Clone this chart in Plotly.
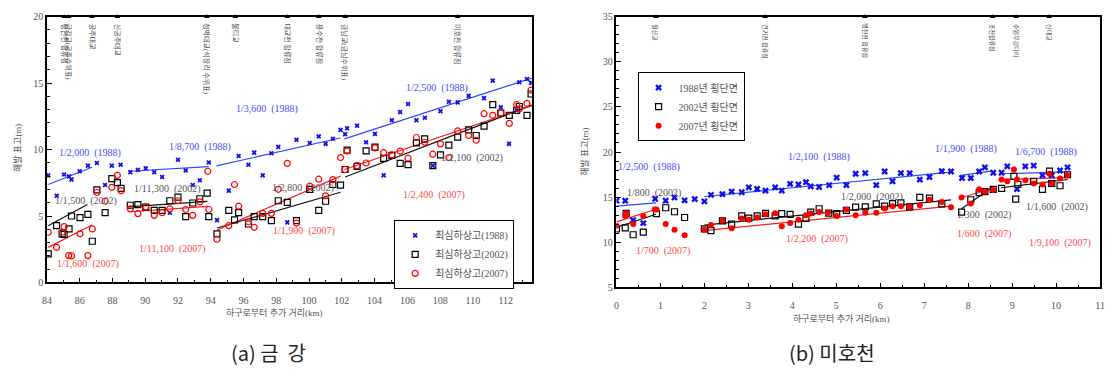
import plotly.graph_objects as go

# ---------------- DATA: (a) 금강 ----------------
geum_x_1988 = [84.08, 84.6, 85.05, 85.35, 85.5, 86.0, 86.5, 87.05, 87.55, 87.96, 88.5, 89.09, 89.55, 90.03,
               90.55, 91.03, 91.5, 92.0, 92.47, 92.9, 93.33, 93.88, 94.38, 95.1, 95.7, 96.3, 96.65, 97.17,
               97.7, 98.12, 98.67, 99.23, 100.04, 100.59, 101.01, 101.45, 101.92, 102.2, 102.32, 102.93,
               103.48, 104.02, 104.55, 105.05, 105.56, 106.04, 106.55, 107.07, 107.55, 108.02, 108.53,
               109.07, 109.74, 110.68, 111.21, 111.7, 112.2, 112.67, 112.83, 113.3, 113.55]
geum_y_1988 = [8.06, 6.52, 8.13, 7.98, 7.74, 8.37, 8.79, 8.99, 7.33, 8.79, 8.86, 8.3, 8.47, 8.6,
               8.3, 7.94, 5.25, 9.23, 8.42, 7.33, 7.69, 9.03, 4.69, 6.91, 9.52, 8.86, 9.77, 8.06,
               9.72, 10.2, 4.52, 10.74, 10.5, 10.99, 10.43, 10.82, 11.48, 11.16, 11.6, 11.8,
               10.55, 11.18, 8.06, 12.2, 12.82, 13.43, 12.2, 12.4, 8.79, 12.89, 13.6,
               13.55, 14.04, 13.87, 15.19, 13.19, 10.43, 12.94, 15.07, 15.31, 15.02]

geum_x_2002 = [84.08, 84.59, 84.93, 85.05, 85.35, 85.5, 86.02, 86.5, 86.77, 87.05, 87.55, 87.96, 88.3, 88.53,
               89.09, 89.55, 90.03, 90.55, 91.03, 91.5, 92.0, 92.47, 92.9, 93.33, 93.78, 93.88, 94.38,
               95.1, 95.45, 95.7, 96.3, 96.65, 97.17, 97.7, 98.12, 98.67, 99.23, 100.04, 100.59, 101.01,
               101.45, 101.92, 102.2, 102.32, 102.93, 103.48, 104.02, 104.55, 105.05, 105.56, 106.04,
               106.55, 107.05, 107.55, 108.02, 108.53, 109.07, 109.74, 110.2, 110.68, 111.21, 111.7,
               112.22, 112.67, 112.83, 113.3, 113.55]
geum_y_2002 = [2.15, 4.27, 3.66, 3.61, 4.03, 5.0, 4.88, 5.13, 3.1, 6.96, 5.25, 7.81, 7.52, 7.08,
               5.81, 5.86, 5.67, 5.42, 5.42, 6.15, 6.42, 4.96, 5.98, 6.3, 6.72, 4.96, 3.66,
               5.42, 4.71, 5.25, 4.4, 4.96, 4.96, 4.65, 6.15, 6.03, 4.65, 7.01, 5.42, 6.11,
               7.37, 7.33, 8.5, 9.96, 8.74, 9.9, 10.18, 9.33, 9.57, 8.96, 8.86,
               10.5, 10.8, 8.79, 9.6, 10.33, 10.94, 11.48, 11.06, 11.77, 13.38, 12.75,
               12.58, 12.94, 13.24, 12.58, 14.18]

geum_x_2007 = [84.08, 84.59, 84.93, 85.05, 85.33, 85.5, 86.02, 86.5, 86.77, 87.05, 87.55, 87.96, 88.3, 88.53,
               89.09, 89.55, 90.03, 90.55, 91.03, 91.5, 92.0, 92.47, 92.9, 93.33, 93.82, 93.88, 94.38,
               95.1, 95.45, 95.7, 96.3, 96.65, 97.17, 97.7, 98.12, 98.67, 99.23, 100.04, 100.59, 101.01,
               101.45, 101.92, 102.2, 102.32, 102.93, 103.48, 104.02, 104.55, 105.05, 105.56, 106.04,
               106.55, 107.05, 107.55, 108.02, 108.53, 109.07, 109.74, 110.2, 110.68, 111.21, 111.7,
               112.22, 112.67, 112.83, 113.3, 113.55]
geum_y_2007 = [3.78, 2.64, 3.78, 4.2, 2.02, 2.0, 3.66, 2.02, 4.03, 6.77, 6.11, 7.16, 8.06, 6.91,
               5.54, 5.18, 5.67, 5.05, 5.25, 5.54, 6.15, 5.49, 5.05, 6.06, 8.37, 5.49, 3.25,
               4.27, 7.37, 5.74, 4.57, 4.15, 5.2, 5.2, 7.01, 8.96, 4.47, 7.25, 7.77, 6.52,
               7.74, 9.4, 8.5, 9.89, 8.79, 8.99, 10.13, 9.77, 9.6, 9.89, 9.35,
               10.91, 10.55, 9.65, 10.43, 9.4, 11.4, 11.06, 10.7, 12.7, 12.58, 12.75,
               11.97, 13.38, 13.06, 13.48, 14.48]

# fitted bed-slope segments: (x start, x end, y start, y end)
geum_fit_1988 = [(84.08, 86.75, 7.37, 8.67), (89.0, 93.88, 8.37, 8.72),
                 (94.35, 101.9, 8.77, 10.87), (102.16, 113.6, 10.8, 15.38)]
geum_fit_2002 = [(84.08, 86.47, 4.27, 5.86), (88.93, 93.8, 5.69, 6.1),
                 (94.38, 101.92, 4.1, 6.79), (102.2, 113.6, 7.94, 13.35)]
geum_fit_2007 = [(84.08, 86.75, 2.64, 4.32), (89.13, 93.82, 5.32, 5.72),
                 (94.38, 101.92, 3.95, 8.0), (102.16, 113.6, 8.5, 13.3)]

geum_slope_text = ["1/2,000  (1988)", "1/8,700  (1988)", "1/3,600  (1988)", "1/2,500  (1988)",
                   "1/1,500  (2002)", "1/11,300  (2002)", "1/2,800  (2002)", "1/2,100  (2002)",
                   "1/1,600  (2007)", "1/11,100  (2007)", "1/1,900  (2007)", "1/2,400  (2007)"]
geum_slope_x = [84.6, 91.3, 95.4, 105.8, 84.4, 89.2, 97.6, 107.9, 84.5, 89.5, 97.7, 105.6]
geum_slope_y = [9.75, 10.2, 13.05, 14.65, 6.1, 7.03, 7.13, 9.33, 1.39, 2.51, 3.9, 6.6]

geum_landmark_x = [85.05, 85.33, 86.75, 88.3, 93.77, 95.5, 98.67, 100.6, 102.2, 109.07]
geum_landmark_name = ["정안천 합류점", "금강교(공주수위표)", "공주대교", "신공주대교",
                      "청벽대교(석장리 수위표)", "불티교", "대교천 합류점", "용수천 합류점",
                      "금남교(금남수위표)", "미호천 합류점"]

# ---------------- DATA: (b) 미호천 ----------------
miho_x_1988 = [0.0, 0.2, 0.38, 0.61, 0.88, 1.12, 1.32, 1.55, 1.78, 2.0, 2.15, 2.41, 2.62, 2.85, 3.01,
               3.2, 3.39, 3.61, 3.76, 3.95, 4.14, 4.31, 4.42, 4.61, 4.84, 5.01, 5.23, 5.44, 5.66,
               5.91, 6.1, 6.28, 6.47, 6.67, 6.9, 7.12, 7.4, 7.61, 7.86, 8.06, 8.25, 8.38, 8.57,
               8.76, 8.89, 9.11, 9.3, 9.49, 9.69, 9.9, 10.09, 10.26]
miho_y_1988 = [14.6, 14.6, 12.45, 12.12, 14.82, 14.6, 14.96, 14.64, 14.78, 14.53, 15.25, 15.32, 15.61,
               15.54, 16.08, 15.9, 15.72, 16.08, 15.72, 16.47, 16.4, 16.65, 16.19, 16.12, 16.33,
               17.16, 16.33, 17.59, 17.66, 16.33, 17.84, 16.76, 17.66, 17.66, 16.94, 17.23, 17.87,
               17.84, 17.12, 17.12, 17.84, 18.3, 17.7, 17.7, 18.41, 15.9, 18.41, 18.49, 17.41,
               17.41, 17.95, 18.3]

miho_x_2002 = [0.0, 0.2, 0.22, 0.38, 0.61, 0.91, 1.12, 1.32, 1.55, 2.0, 2.15, 2.41, 2.62, 2.85, 3.01,
               3.2, 3.39, 3.61, 3.76, 3.95, 4.14, 4.31, 4.42, 4.61, 4.83, 5.01, 5.23, 5.44, 5.66,
               5.91, 6.1, 6.28, 6.47, 6.67, 6.9, 7.12, 7.4, 7.85, 8.06, 8.25, 8.38, 8.57, 8.76,
               9.04, 9.08, 9.13, 9.49, 9.69, 9.85, 9.9, 10.09, 10.26]
miho_y_2002 = [11.47, 11.58, 13.2, 10.83, 11.12, 13.17, 13.82, 13.38, 12.74, 11.47, 11.29, 12.37,
               12.01, 12.91, 12.66, 12.91, 13.2, 12.91, 13.17, 13.09, 12.01, 12.63, 13.34, 13.71,
               13.22, 13.17, 13.52, 13.88, 13.92, 14.24, 13.99, 14.27, 14.35, 13.92, 14.96, 14.89,
               14.24, 13.34, 14.71, 15.5, 15.6, 15.85, 15.97, 17.3, 14.78, 16.4, 16.76, 15.86,
               17.87, 16.51, 16.26, 17.48]

miho_x_2007 = [0.0, 0.2, 0.22, 0.38, 0.61, 0.87, 0.91, 1.12, 1.32, 1.55, 2.0, 2.15, 2.41, 2.62, 2.85,
               3.01, 3.2, 3.39, 3.61, 3.76, 3.95, 4.14, 4.31, 4.42, 4.61, 4.81, 5.01, 5.23, 5.44,
               5.66, 5.91, 6.1, 6.28, 6.47, 6.67, 6.9, 7.12, 7.4, 7.61, 7.85, 8.06, 8.25, 8.38,
               8.57, 8.76, 8.89, 9.04, 9.11, 9.3, 9.49, 9.69, 9.85, 9.9, 10.09, 10.26]
miho_y_2007 = [11.83, 12.91, 13.2, 12.01, 12.91, 13.63, 13.63, 12.01, 11.37, 10.76, 11.37, 11.9,
               12.37, 11.55, 12.63, 12.48, 12.74, 13.09, 13.2, 11.77, 12.12, 12.48, 12.98, 13.17,
               13.34, 13.27, 12.91, 13.63, 12.98, 13.27, 13.27, 13.74, 13.99, 13.99, 13.92, 14.1,
               14.71, 14.46, 13.88, 14.96, 14.28, 15.86, 15.6, 15.79, 16.94, 16.76, 18.05, 16.94,
               16.87, 16.51, 16.4, 17.59, 16.51, 17.05, 17.41]

miho_fit_1988 = [(0.0, 0.9, 13.99, 14.35), (2.0, 7.65, 15.07, 17.8),
                 (7.84, 8.55, 17.41, 17.9), (8.74, 10.26, 17.59, 17.8)]
miho_fit_2002 = [(0.0, 0.9, 11.65, 13.1), (2.0, 7.61, 11.9, 14.7),
                 (7.85, 8.55, 13.71, 16.1), (8.74, 10.26, 16.04, 16.95)]
miho_fit_2007 = [(0.0, 0.9, 12.26, 13.65), (2.0, 7.61, 11.29, 14.0),
                 (7.85, 8.55, 14.96, 15.95), (8.74, 10.26, 16.94, 17.15)]

miho_slope_text = ["1/2,500  (1988)", "1/2,100  (1988)", "1/1,900  (1988)", "1/6,700  (1988)",
                   "1/800  (2002)", "1/2,000  (2002)", "1/300  (2002)", "1/1,600  (2002)",
                   "1/700  (2007)", "1/2,200  (2007)", "1/600  (2007)", "1/9,100  (2007)"]
miho_slope_x = [0.0, 3.86, 7.2, 9.02, 0.2, 5.06, 7.71, 9.26, 0.4, 3.8, 7.69, 9.34]
miho_slope_y = [18.3, 19.4, 20.36, 20.0, 15.5, 14.96, 13.02, 13.92, 9.03, 10.4, 10.86, 9.96]

miho_landmark_x = [0.9, 3.38, 5.65, 8.56, 9.09, 9.84]
miho_landmark_name = ["월산교", "연기천 합류점", "병천천 합류점", "조천합류점", "수원무강다리", "신대교"]

# ---------------- STYLE ----------------
FONT = "Liberation Serif, Noto Sans CJK KR, serif"
BLUE, BLACK, RED = "#1010ee", "#000000", "#ff0000"
LBL = {"1988": "#4a4aff", "2002": "#555555", "2007": "#ff4a4a"}
LINE = {"1988": "#2a48ff", "2002": "#111111", "2007": "#ff1a1a"}

fig = go.Figure()


def add_fits(segs, color, xa, ya):
    xs, ys = [], []
    for x0, x1, y0, y1 in segs:
        xs += [x0, x1, None]
        ys += [y0, y1, None]
    fig.add_trace(go.Scatter(x=xs, y=ys, mode="lines", line=dict(color=color, width=1.2),
                             showlegend=False, hoverinfo="skip", xaxis=xa, yaxis=ya))


# ---- left panel ----
add_fits(geum_fit_1988, LINE["1988"], "x", "y")
add_fits(geum_fit_2002, LINE["2002"], "x", "y")
add_fits(geum_fit_2007, LINE["2007"], "x", "y")

fig.add_trace(go.Scatter(x=geum_x_1988, y=geum_y_1988, mode="markers", name="최심하상고(1988)",
                         marker=dict(symbol="x", size=4.5, color=BLUE, line=dict(width=0)),
                         xaxis="x", yaxis="y", legend="legend"))
fig.add_trace(go.Scatter(x=geum_x_2002, y=geum_y_2002, mode="markers", name="최심하상고(2002)",
                         marker=dict(symbol="square-open", size=6, color=BLACK, line=dict(width=1.2)),
                         xaxis="x", yaxis="y", legend="legend"))
fig.add_trace(go.Scatter(x=geum_x_2007, y=geum_y_2007, mode="markers", name="최심하상고(2007)",
                         marker=dict(symbol="circle-open", size=6, color=RED, line=dict(width=1.2)),
                         xaxis="x", yaxis="y", legend="legend"))

fig.add_trace(go.Scatter(x=geum_landmark_x, y=[20] * len(geum_landmark_x), mode="markers",
                         marker=dict(symbol="triangle-up", size=5, color="black"),
                         cliponaxis=False, showlegend=False, xaxis="x", yaxis="y"))

# ---- right panel ----
add_fits(miho_fit_1988, LINE["1988"], "x2", "y2")
add_fits(miho_fit_2002, LINE["2002"], "x2", "y2")
add_fits(miho_fit_2007, LINE["2007"], "x2", "y2")

fig.add_trace(go.Scatter(x=miho_x_1988, y=miho_y_1988, mode="markers", name="1988년 횡단면",
                         marker=dict(symbol="x", size=6, color=BLUE, line=dict(width=0)),
                         xaxis="x2", yaxis="y2", legend="legend2"))
fig.add_trace(go.Scatter(x=miho_x_2002, y=miho_y_2002, mode="markers", name="2002년 횡단면",
                         marker=dict(symbol="square-open", size=6, color=BLACK, line=dict(width=1.2)),
                         xaxis="x2", yaxis="y2", legend="legend2"))
fig.add_trace(go.Scatter(x=miho_x_2007, y=miho_y_2007, mode="markers", name="2007년 횡단면",
                         marker=dict(symbol="circle", size=6, color=RED),
                         xaxis="x2", yaxis="y2", legend="legend2"))

fig.add_trace(go.Scatter(x=miho_landmark_x, y=[35] * len(miho_landmark_x), mode="markers",
                         marker=dict(symbol="triangle-up", size=5, color="black"),
                         cliponaxis=False, showlegend=False, xaxis="x2", yaxis="y2"))

ann = []
years = ["1988"] * 4 + ["2002"] * 4 + ["2007"] * 4
for t, x, y, yr in zip(geum_slope_text, geum_slope_x, geum_slope_y, years):
    ann.append(dict(text=t, x=x, y=y, xref="x", yref="y", xanchor="left", yanchor="middle",
                    showarrow=False, font=dict(family=FONT, size=10, color=LBL[yr])))
for t, x, y, yr in zip(miho_slope_text, miho_slope_x, miho_slope_y, years):
    ann.append(dict(text=t, x=x, y=y, xref="x2", yref="y2", xanchor="left", yanchor="middle",
                    showarrow=False, font=dict(family=FONT, size=10, color=LBL[yr])))
for x, t in zip(geum_landmark_x, geum_landmark_name):
    ann.append(dict(text=t, x=x, y=20, xref="x", yref="y", xanchor="center", yanchor="top",
                    yshift=-5, textangle=90, showarrow=False,
                    font=dict(family=FONT, size=7, color="#444444")))
for x, t in zip(miho_landmark_x, miho_landmark_name):
    ann.append(dict(text=t, x=x, y=35, xref="x2", yref="y2", xanchor="center", yanchor="top",
                    yshift=-5, textangle=90, showarrow=False,
                    font=dict(family=FONT, size=6, color="#444444")))

# axis titles and captions (paper coordinates)
W, H = 1112, 378
def px(x):
    return x / W
def py(y):
    return 1 - y / H

def paper_text(text, x, y, size, family=FONT, color="#555555", angle=0):
    return dict(text=text, x=px(x), y=py(y), xref="paper", yref="paper", xanchor="center",
                yanchor="middle", textangle=angle, showarrow=False,
                font=dict(family=family, size=size, color=color))

ann += [
    paper_text("해발 표고(m)", 13, 147, 9, angle=-90),
    paper_text("해발 표고(m)", 585, 151, 9, angle=-90),
    paper_text("하구로부터 추가 거리(km)", 272, 316, 9),
    paper_text("하구로부터 추가 거리(km)", 844, 323, 9),
    paper_text("(a) 금  강", 266, 357, 20, family="Noto Sans CJK KR", color="#222222"),
    paper_text("(b) 미호천", 835, 357, 20, family="Noto Sans CJK KR", color="#222222"),
]

axis_common = dict(showline=True, linecolor="black", linewidth=1.5, mirror=True, ticks="inside",
                   ticklen=5, tickcolor="black", tickwidth=1, showgrid=False, zeroline=False,
                   tickfont=dict(family=FONT, size=10, color="#555555"))

fig.update_layout(
    width=W, height=H, margin=dict(l=0, r=0, t=0, b=0),
    paper_bgcolor="white", plot_bgcolor="white",
    xaxis=dict(domain=[px(42.3), px(531.7)], range=[84, 113.6], dtick=2, tick0=84,
               minor=dict(dtick=1, ticks="inside", ticklen=3, tickcolor="black"),
               ticklabelstandoff=8, anchor="y", **axis_common),
    yaxis=dict(domain=[py(285), py(12)], range=[0, 20], dtick=5,
               minor=dict(dtick=1, ticks="inside", ticklen=3, tickcolor="black"),
               anchor="x", **axis_common),
    xaxis2=dict(domain=[px(617), px(1105)], range=[0, 11], dtick=1,
                minor=dict(dtick=0.5, ticks="inside", ticklen=3, tickcolor="black"),
                ticklabelstandoff=8, anchor="y2", **axis_common),
    yaxis2=dict(domain=[py(290), py(12)], range=[5, 35], dtick=5,
                minor=dict(dtick=1, ticks="inside", ticklen=3, tickcolor="black"),
                anchor="x2", **axis_common),
    legend=dict(x=px(392.7), y=py(220.7), xanchor="left", yanchor="top", bgcolor="white",
                bordercolor="black", borderwidth=1, font=dict(family=FONT, size=10, color="#555555"),
                itemwidth=30, tracegroupgap=0),
    legend2=dict(x=px(638.3), y=py(69), xanchor="left", yanchor="top", bgcolor="white",
                 bordercolor="black", borderwidth=1, font=dict(family=FONT, size=10, color="#555555"),
                 itemwidth=30, tracegroupgap=0),
    annotations=ann,
    showlegend=True,
)

fig.write_html("out.html")
